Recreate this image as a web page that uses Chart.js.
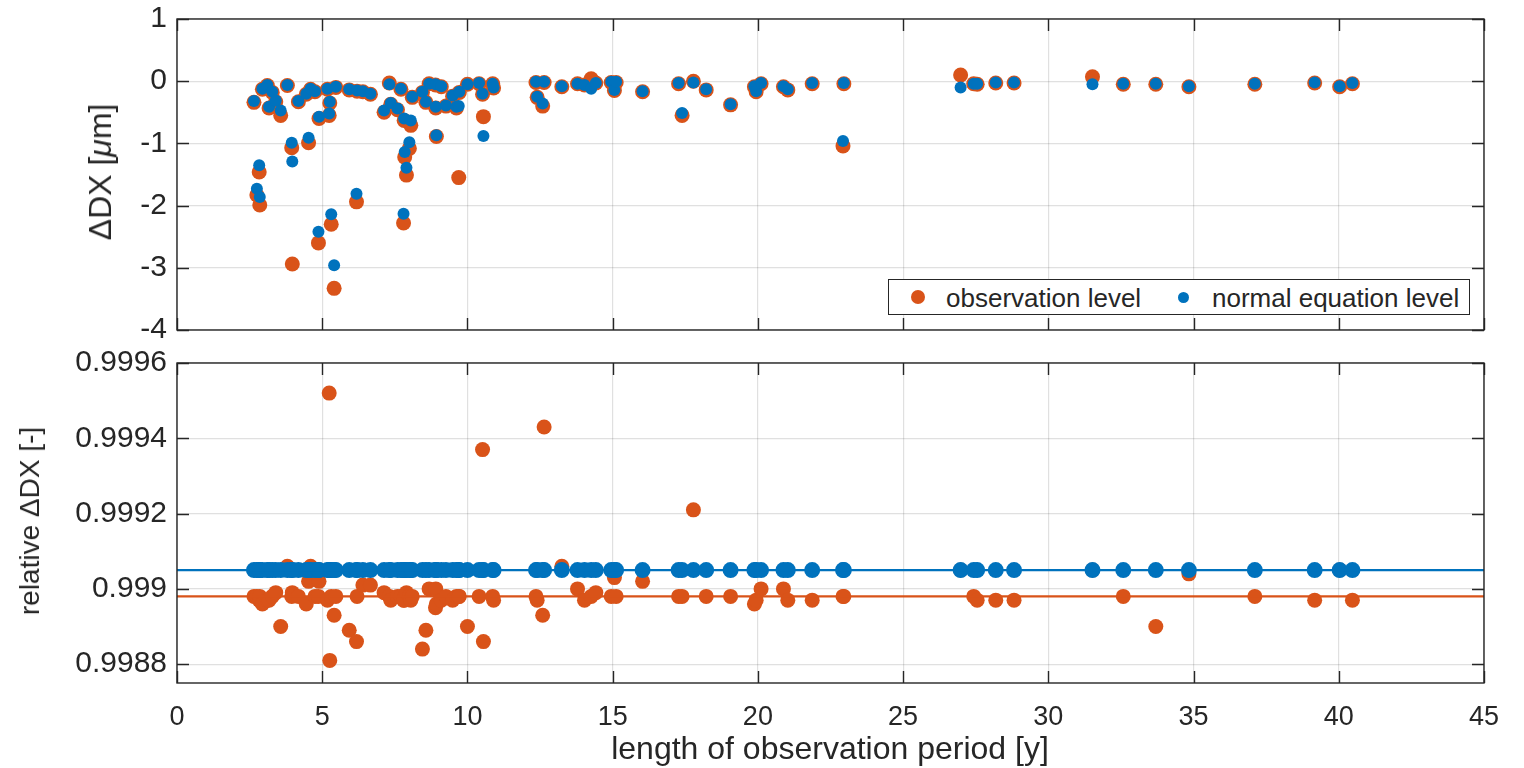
<!DOCTYPE html>
<html>
<head>
<meta charset="utf-8">
<script src="https://cdn.jsdelivr.net/npm/chart.js@4.4.1/dist/chart.umd.min.js"></script>
<style>
  body{margin:0;background:#fff;width:1524px;height:768px;overflow:hidden;position:relative;
       font-family:"Liberation Sans",Arial,Helvetica,sans-serif;color:#262626}
  canvas{position:absolute;left:0}
  #top{top:0}
  #bot{top:345px}
  .ttl{position:absolute;white-space:nowrap;font-size:28px;line-height:1}
  .rot{transform:translate(-50%,-50%) rotate(-90deg)}
  .hor{transform:translate(-50%,-50%)}
  #legend{position:absolute;left:888px;top:279px;width:582px;height:36px;border:1.5px solid #262626;
          background:#fff;box-sizing:border-box;font-size:26px}
  #legend .dot{position:absolute;border-radius:50%}
  #legend .txt{position:absolute;top:3px;white-space:nowrap}
</style>
</head>
<body>
<canvas id="top" width="1524" height="345"></canvas>
<canvas id="bot" width="1524" height="423"></canvas>

<div class="ttl rot" style="left:100px;top:172px;font-size:32px">&Delta;DX [<i>&mu;</i>m]</div>
<div class="ttl rot" style="left:30px;top:521px">relative &Delta;DX [-]</div>
<div class="ttl hor" style="left:830px;top:748px;font-size:32px">length of observation period [y]</div>

<div id="legend">
  <span class="dot" style="left:22px;top:10px;width:14px;height:14px;background:#D95319"></span>
  <span class="txt" style="left:57px">observation level</span>
  <span class="dot" style="left:289px;top:12px;width:11px;height:11px;background:#0072BD"></span>
  <span class="txt" style="left:323px">normal equation level</span>
</div>

<script>
// === data ===
const periods = [
  2.65, 2.75, 2.83, 2.85, 2.94, 3.11, 3.17, 3.28, 3.40, 3.57,
  3.80, 3.95, 3.97, 4.18, 4.45, 4.53, 4.60, 4.75, 4.89, 4.87,
  5.18, 5.24, 5.26, 5.31, 5.41, 5.47, 5.93, 6.18, 6.20, 6.40,
  6.66, 7.13, 7.31, 7.36, 7.59, 7.71, 7.82, 7.84, 7.80, 7.90,
  8.00, 8.05, 8.10, 8.45, 8.57, 8.68, 8.90, 8.91, 8.93, 9.10,
  9.26, 9.49, 9.62, 9.70, 9.72, 10.00, 10.40, 10.52, 10.55, 10.87,
  10.90, 12.36, 12.40, 12.59, 12.64, 13.25, 13.79, 14.03, 14.26, 14.42,
  14.95, 15.06, 15.12, 16.03, 17.27, 17.39, 17.78, 18.22, 19.06, 19.88,
  19.94, 20.11, 20.88, 21.03, 21.87, 22.93, 22.96, 26.98, 27.43, 27.55,
  28.19, 28.82, 31.52, 32.58, 33.70, 34.84, 37.11, 39.17, 40.03, 40.47
];
// ΔDX [µm], observation level
const dxObs = [
  -0.34, -1.83, -1.46, -1.99, -0.13, -0.07, -0.43, -0.18, -0.33, -0.55,
  -0.07, -1.07, -2.94, -0.33, -0.21, -0.99, -0.13, -0.17, -0.60, -2.60,
  -0.13, -0.55, -0.35, -2.30, -3.33, -0.10, -0.14, -1.94, -0.16, -0.17,
  -0.21, -0.50, -0.03, -0.37, -0.46, -0.13, -0.63, -1.22, -2.28, -1.51,
  -1.08, -0.71, -0.26, -0.18, -0.34, -0.04, -0.06, -0.43, -0.89, -0.09,
  -0.40, -0.24, -0.43, -1.55, -0.18, -0.05, -0.04, -0.21, -0.57, -0.04,
  -0.11, -0.02, -0.26, -0.40, -0.02, -0.09, -0.04, -0.06, 0.04, -0.03,
  -0.02, -0.15, -0.02, -0.17, -0.04, -0.55, 0.00, -0.14, -0.38, -0.09,
  -0.17, -0.04, -0.09, -0.14, -0.04, -1.04, -0.04, 0.10, -0.04, -0.05,
  -0.03, -0.03, 0.07, -0.05, -0.05, -0.09, -0.05, -0.03, -0.09, -0.04
];
// ΔDX [µm], normal equation level
const dxNeq = [
  -0.32, -1.73, -1.35, -1.86, -0.12, -0.06, -0.41, -0.17, -0.31, -0.47,
  -0.06, -0.99, -1.29, -0.32, -0.20, -0.91, -0.12, -0.16, -0.57, -2.42,
  -0.12, -0.52, -0.33, -2.14, -2.96, -0.09, -0.13, -1.81, -0.15, -0.16,
  -0.20, -0.47, -0.05, -0.35, -0.44, -0.12, -0.60, -1.14, -2.13, -1.39,
  -0.98, -0.63, -0.25, -0.17, -0.33, -0.04, -0.05, -0.41, -0.87, -0.08,
  -0.39, -0.23, -0.41, -0.40, -0.17, -0.05, -0.03, -0.20, -0.88, -0.04,
  -0.10, -0.01, -0.25, -0.36, -0.01, -0.08, -0.04, -0.06, -0.12, -0.03,
  -0.01, -0.14, -0.01, -0.16, -0.03, -0.51, -0.02, -0.13, -0.37, -0.08,
  -0.16, -0.03, -0.08, -0.13, -0.03, -0.96, -0.03, -0.10, -0.04, -0.04,
  -0.02, -0.02, -0.05, -0.04, -0.04, -0.08, -0.04, -0.02, -0.08, -0.03
];
// relative ΔDX [-], observation level
const relObs = [
  0.99898, 0.99898, 0.99897, 0.99898, 0.99896, 0.99897, 0.99897, 0.99898, 0.99899, 0.99890,
  0.99906, 0.99898, 0.99899, 0.99898, 0.99896, 0.99902, 0.99906, 0.99898, 0.99902, 0.99898,
  0.99897, 0.99952, 0.99881, 0.99898, 0.99893, 0.99898, 0.99889, 0.99886, 0.99898, 0.99901,
  0.99901, 0.99899, 0.99898, 0.99897, 0.99898, 0.99898, 0.99897, 0.99898, 0.99897, 0.99899,
  0.99898, 0.99897, 0.99898, 0.99884, 0.99889, 0.99900, 0.99895, 0.99900, 0.99896, 0.99897,
  0.99898, 0.99897, 0.99898, 0.99898, 0.99898, 0.99890, 0.99898, 0.99937, 0.99886, 0.99898,
  0.99897, 0.99898, 0.99897, 0.99893, 0.99943, 0.99906, 0.99900, 0.99897, 0.99898, 0.99899,
  0.99898, 0.99903, 0.99898, 0.99902, 0.99898, 0.99898, 0.99921, 0.99898, 0.99898, 0.99896,
  0.99897, 0.99900, 0.99900, 0.99897, 0.99897, 0.99898, 0.99898, 0.99905, 0.99898, 0.99897,
  0.99897, 0.99897, 0.99905, 0.99898, 0.99890, 0.99904, 0.99898, 0.99897, 0.99905, 0.99897
];
// relative ΔDX [-], normal equation level (all on one level)
const relNeq = [
  0.99905, 0.99905, 0.99905, 0.99905, 0.99905, 0.99905, 0.99905, 0.99905, 0.99905, 0.99905,
  0.99905, 0.99905, 0.99905, 0.99905, 0.99905, 0.99905, 0.99905, 0.99905, 0.99905, 0.99905,
  0.99905, 0.99905, 0.99905, 0.99905, 0.99905, 0.99905, 0.99905, 0.99905, 0.99905, 0.99905,
  0.99905, 0.99905, 0.99905, 0.99905, 0.99905, 0.99905, 0.99905, 0.99905, 0.99905, 0.99905,
  0.99905, 0.99905, 0.99905, 0.99905, 0.99905, 0.99905, 0.99905, 0.99905, 0.99905, 0.99905,
  0.99905, 0.99905, 0.99905, 0.99905, 0.99905, 0.99905, 0.99905, 0.99905, 0.99905, 0.99905,
  0.99905, 0.99905, 0.99905, 0.99905, 0.99905, 0.99905, 0.99905, 0.99905, 0.99905, 0.99905,
  0.99905, 0.99905, 0.99905, 0.99905, 0.99905, 0.99905, 0.99905, 0.99905, 0.99905, 0.99905,
  0.99905, 0.99905, 0.99905, 0.99905, 0.99905, 0.99905, 0.99905, 0.99905, 0.99905, 0.99905,
  0.99905, 0.99905, 0.99905, 0.99905, 0.99905, 0.99905, 0.99905, 0.99905, 0.99905, 0.99905
];
// mean levels drawn as horizontal lines
const relObsLevel = 0.99898;
const relNeqLevel = 0.99905;

const xRange = [0, 45];
const xTicks = [0, 5, 10, 15, 20, 25, 30, 35, 40, 45];
const topRange = [-4, 1];
const topTicks = [-4, -3, -2, -1, 0, 1];
const botRange = [0.99875, 0.9996];
const botTicks = [0.9988, 0.999, 0.9992, 0.9994, 0.9996];

// === styling ===
const ORANGE = "#D95319", BLUE = "#0072BD", AXIS = "#262626";
const GRID = "rgba(38,38,38,0.14)";
const XFONT = {family: "'Liberation Sans', Arial, sans-serif", size: 27};
const YFONT = {family: "'Liberation Sans', Arial, sans-serif", size: 30};
const TL = 12; // inward tick length

const pts = (xs, ys) => xs.map((x, i) => ({x, y: ys[i]}));

// MATLAB-like box with inward ticks on all four sides
const boxPlugin = {
  id: "box",
  afterDraw(chart){
    const {ctx, chartArea: a, scales: {x, y}} = chart;
    ctx.save();
    ctx.strokeStyle = AXIS;
    ctx.lineWidth = 1.4;
    ctx.beginPath();
    x.ticks.forEach(t => {
      const p = Math.round(x.getPixelForValue(t.value)) + 0.5;
      ctx.moveTo(p, a.bottom); ctx.lineTo(p, a.bottom - TL);
      ctx.moveTo(p, a.top);    ctx.lineTo(p, a.top + TL);
    });
    y.ticks.forEach(t => {
      const p = Math.round(y.getPixelForValue(t.value)) + 0.5;
      ctx.moveTo(a.left, p);  ctx.lineTo(a.left + TL, p);
      ctx.moveTo(a.right, p); ctx.lineTo(a.right - TL, p);
    });
    ctx.stroke();
    ctx.strokeRect(a.left, a.top, a.right - a.left, a.bottom - a.top);
    ctx.restore();
  }
};

function scalesFor(yRange, yTicks, showX, xHeight){
  return {
    x: {
      type: "linear", min: xRange[0], max: xRange[1],
      afterBuildTicks: s => { s.ticks = xTicks.map(v => ({value: v})); },
      afterFit: s => { s.height = xHeight; s.paddingLeft = 0; s.paddingRight = 0; },
      grid: {color: GRID, lineWidth: 1.2, drawTicks: false},
      border: {display: false},
      ticks: {display: showX, color: AXIS, font: XFONT, padding: 18, maxRotation: 0,
              callback: v => String(v)}
    },
    y: {
      type: "linear", min: yRange[0], max: yRange[1],
      afterBuildTicks: s => { s.ticks = yTicks.map(v => ({value: v})); },
      afterFit: s => { s.width = 177; s.paddingTop = 0; s.paddingBottom = 0; },
      grid: {color: GRID, lineWidth: 1.2, drawTicks: false},
      border: {display: false},
      ticks: {color: AXIS, font: YFONT, padding: 10, callback: v => String(v)}
    }
  };
}

const common = {
  responsive: false,
  animation: false,
  plugins: {legend: {display: false}, tooltip: {enabled: false}},
};

// === top: ΔDX === (lower "order" is drawn on top)
new Chart(document.getElementById("top"), {
  type: "scatter",
  data: {
    datasets: [
      {label: "observation level", data: pts(periods, dxObs), order: 2,
       backgroundColor: ORANGE, borderWidth: 0, pointRadius: 7.5},
      {label: "normal equation level", data: pts(periods, dxNeq), order: 1,
       backgroundColor: BLUE, borderWidth: 0, pointRadius: 6}
    ]
  },
  options: {...common,
    layout: {padding: {left: 0, top: 19, right: 40, bottom: 0}},
    scales: scalesFor(topRange, topTicks, false, 15)
  },
  plugins: [boxPlugin]
});

// === bottom: relative ΔDX ===
new Chart(document.getElementById("bot"), {
  type: "scatter",
  data: {
    datasets: [
      {label: "observation level", data: pts(periods, relObs), order: 4,
       backgroundColor: ORANGE, borderWidth: 0, pointRadius: 7.5},
      {type: "line", data: [{x: xRange[0], y: relObsLevel}, {x: xRange[1], y: relObsLevel}], order: 3,
       borderColor: ORANGE, borderWidth: 2.2, pointRadius: 0, fill: false},
      {label: "normal equation level", data: pts(periods, relNeq), order: 2,
       backgroundColor: BLUE, borderWidth: 0, pointRadius: 8},
      {type: "line", data: [{x: xRange[0], y: relNeqLevel}, {x: xRange[1], y: relNeqLevel}], order: 1,
       borderColor: BLUE, borderWidth: 2.2, pointRadius: 0, fill: false}
    ]
  },
  options: {...common,
    layout: {padding: {left: 0, top: 18, right: 40, bottom: 0}},
    scales: scalesFor(botRange, botTicks, true, 85)
  },
  plugins: [boxPlugin]
});
</script>
</body>
</html>
